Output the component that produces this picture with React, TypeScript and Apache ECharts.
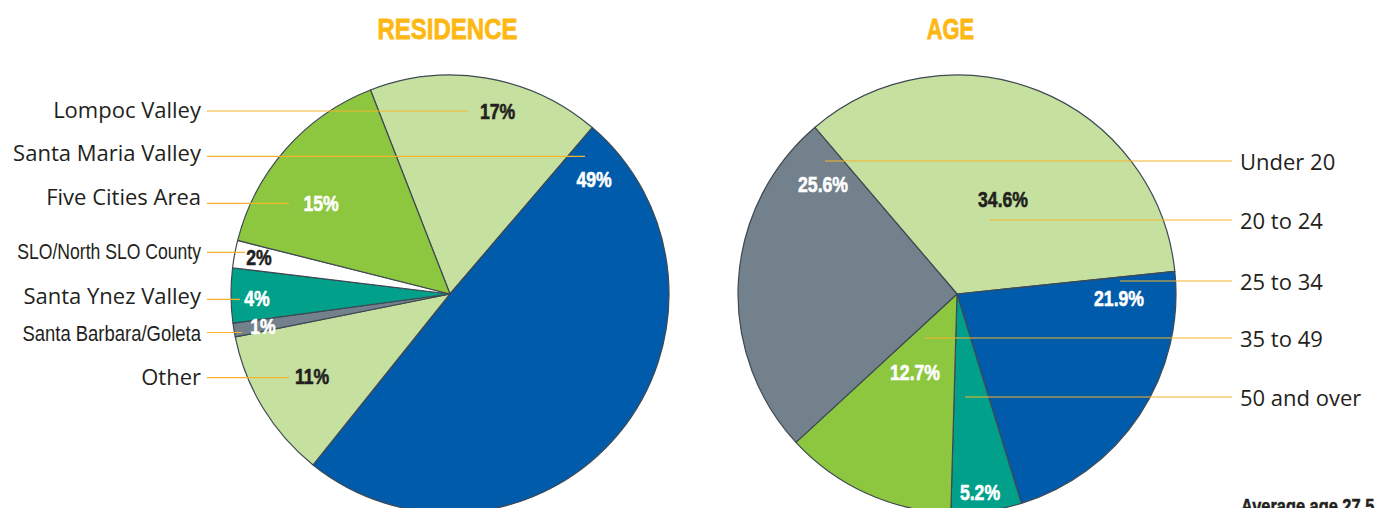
import React, { useEffect, useRef } from 'react';
import * as echarts from 'echarts';

// ---------- data ----------
const titles = ['RESIDENCE', 'AGE'];
const residenceCategories = [
  'Lompoc Valley',
  'Santa Maria Valley',
  'Other',
  'Santa Barbara/Goleta',
  'Santa Ynez Valley',
  'SLO/North SLO County',
  'Five Cities Area',
];
const residenceValues = [17, 49, 11, 1, 4, 2, 15];
const ageCategories = ['20 to 24', '25 to 34', '50 and over', '35 to 49', 'Under 20'];
const ageValues = [34.6, 21.9, 5.2, 12.7, 25.6];
const ageNote = 'Average age 27.5';

// ---------- styles / layout ----------
const LIGHT = '#C5E09F';
const GREEN = '#8DC63F';
const BLUE = '#005BAA';
const TEAL = '#00A08A';
const GRAY = '#72818B';
const WHITE = '#FFFFFF';
const DARK = '#231F20';
const GOLD = '#FDB813';
const LEADER = '#F6B42A';
const EDGE = '#3E4953';

const residenceColors = [LIGHT, BLUE, LIGHT, GRAY, TEAL, WHITE, GREEN];
const residenceLabelColors = [DARK, WHITE, DARK, WHITE, WHITE, DARK, WHITE];
const ageColors = [LIGHT, BLUE, TEAL, GREEN, GRAY];
const ageLabelColors = [DARK, WHITE, WHITE, WHITE, WHITE];

const residenceLabelPos = [
  [497.5, 111],
  [594, 179.5],
  [312, 376],
  [263, 326],
  [257, 298.5],
  [259, 257],
  [321, 203.5],
];
const ageLabelPos = [
  [1003, 199],
  [1119, 298],
  [980, 492],
  [915, 372],
  [823, 184],
];

const residenceNameLayout = [
  { ty: 108.7, ly: 111, end: 468, narrow: 0 },
  { ty: 152, ly: 156.3, end: 585, narrow: 0 },
  { ty: 376.3, ly: 377.7, end: 289, narrow: 0 },
  { ty: 333, ly: 332.5, end: 242, narrow: 0.84 },
  { ty: 294.7, ly: 299.3, end: 240, narrow: 0 },
  { ty: 251, ly: 252.3, end: 245, narrow: 0.8 },
  { ty: 196, ly: 203.3, end: 289, narrow: 0 },
];
const ageNameLayout = [
  { y: 220, end: 990 },
  { y: 281, end: 1120 },
  { y: 397, end: 965 },
  { y: 338, end: 925 },
  { y: 161, end: 825 },
];

const BOLDFACE = '"Liberation Sans", Arial, sans-serif';
const HUMAN = '"Open Sans", "Noto Sans", sans-serif';

function txt(text: string, x: number, y: number, opts: any) {
  const style: any = {
    text,
    x: 0,
    y: 0,
    fill: opts.fill ?? DARK,
    fontSize: opts.fontSize,
    fontFamily: opts.fontFamily,
    fontWeight: opts.fontWeight ?? 'normal',
    align: opts.align ?? 'left',
    verticalAlign: 'middle',
    textAlign: opts.align ?? 'left',
    textVerticalAlign: 'middle',
  };
  if (opts.heavy) {
    style.stroke = opts.fill ?? DARK;
    style.lineWidth = opts.heavy;
  }
  return {
    type: 'text',
    x,
    y,
    z: 100,
    scaleX: opts.scaleX ?? 1,
    silent: true,
    style,
  };
}

function leader(x1: number, x2: number, y: number) {
  return {
    type: 'line',
    z: 90,
    silent: true,
    shape: { x1, y1: y, x2, y2: y },
    style: { stroke: LEADER, lineWidth: 1.2 },
  };
}

function pieSeries(names: string[], values: number[], colors: string[], center: number[], startAngle: number) {
  return {
    type: 'pie',
    center,
    radius: 219,
    startAngle,
    clockwise: true,
    silent: true,
    avoidLabelOverlap: false,
    emphasis: { disabled: true },
    itemStyle: { borderColor: EDGE, borderWidth: 1.2 },
    labelLine: { show: false },
    label: { show: false },
    data: names.map((n, i) => ({
      name: n,
      value: values[i],
      itemStyle: { color: colors[i] },
    })),
  };
}

function percentLabels(values: number[], decimals: number, pos: number[][], colors: string[]) {
  return values.map((v, i) =>
    txt(v.toFixed(decimals) + '%', pos[i][0], pos[i][1], {
      fontSize: 22,
      fontFamily: BOLDFACE,
      fontWeight: 'bold',
      fill: colors[i],
      align: 'center',
      scaleX: 0.8,
      heavy: 0.6,
    })
  );
}

export default function App() {
  const ref = useRef<HTMLDivElement>(null);

  useEffect(() => {
    if (!ref.current) return;
    const chart = echarts.init(ref.current, undefined, { renderer: 'svg' });

    const graphics: any[] = [];
    graphics.push(
      txt(titles[0], 447.5, 28.5, {
        fontSize: 30,
        fontFamily: BOLDFACE,
        fontWeight: 'bold',
        fill: GOLD,
        align: 'center',
        scaleX: 0.8,
        heavy: 0.8,
      })
    );
    graphics.push(
      txt(titles[1], 950.5, 29.2, {
        fontSize: 30,
        fontFamily: BOLDFACE,
        fontWeight: 'bold',
        fill: GOLD,
        align: 'center',
        scaleX: 0.73,
        heavy: 0.8,
      })
    );
    residenceCategories.forEach((name, i) => {
      const l = residenceNameLayout[i];
      graphics.push(leader(207, l.end, l.ly));
      graphics.push(
        txt(name, 201, l.ty, {
          fontSize: 22,
          fontFamily: l.narrow ? BOLDFACE : HUMAN,
          align: 'right',
          scaleX: l.narrow || 1,
        })
      );
    });
    ageCategories.forEach((name, i) => {
      const l = ageNameLayout[i];
      graphics.push(leader(l.end, 1232, l.y));
      graphics.push(txt(name, 1240, l.y, { fontSize: 22, fontFamily: HUMAN, align: 'left' }));
    });
    graphics.push(...percentLabels(residenceValues, 0, residenceLabelPos, residenceLabelColors));
    graphics.push(...percentLabels(ageValues, 1, ageLabelPos, ageLabelColors));
    graphics.push(
      txt(ageNote, 1241, 506, {
        fontSize: 20,
        fontFamily: BOLDFACE,
        fontWeight: 'bold',
        align: 'left',
        scaleX: 0.82,
        heavy: 0.5,
      })
    );

    chart.setOption({
      animation: false,
      backgroundColor: '#FFFFFF',
      series: [
        pieSeries(residenceCategories, residenceValues, residenceColors, [450, 294], 111.3),
        pieSeries(ageCategories, ageValues, ageColors, [957, 294], 130.5),
      ],
      graphic: { elements: graphics },
    });

    return () => chart.dispose();
  }, []);

  return <div ref={ref} style={{ position: 'absolute', left: 0, top: 0, width: 1383, height: 508 }} />;
}
